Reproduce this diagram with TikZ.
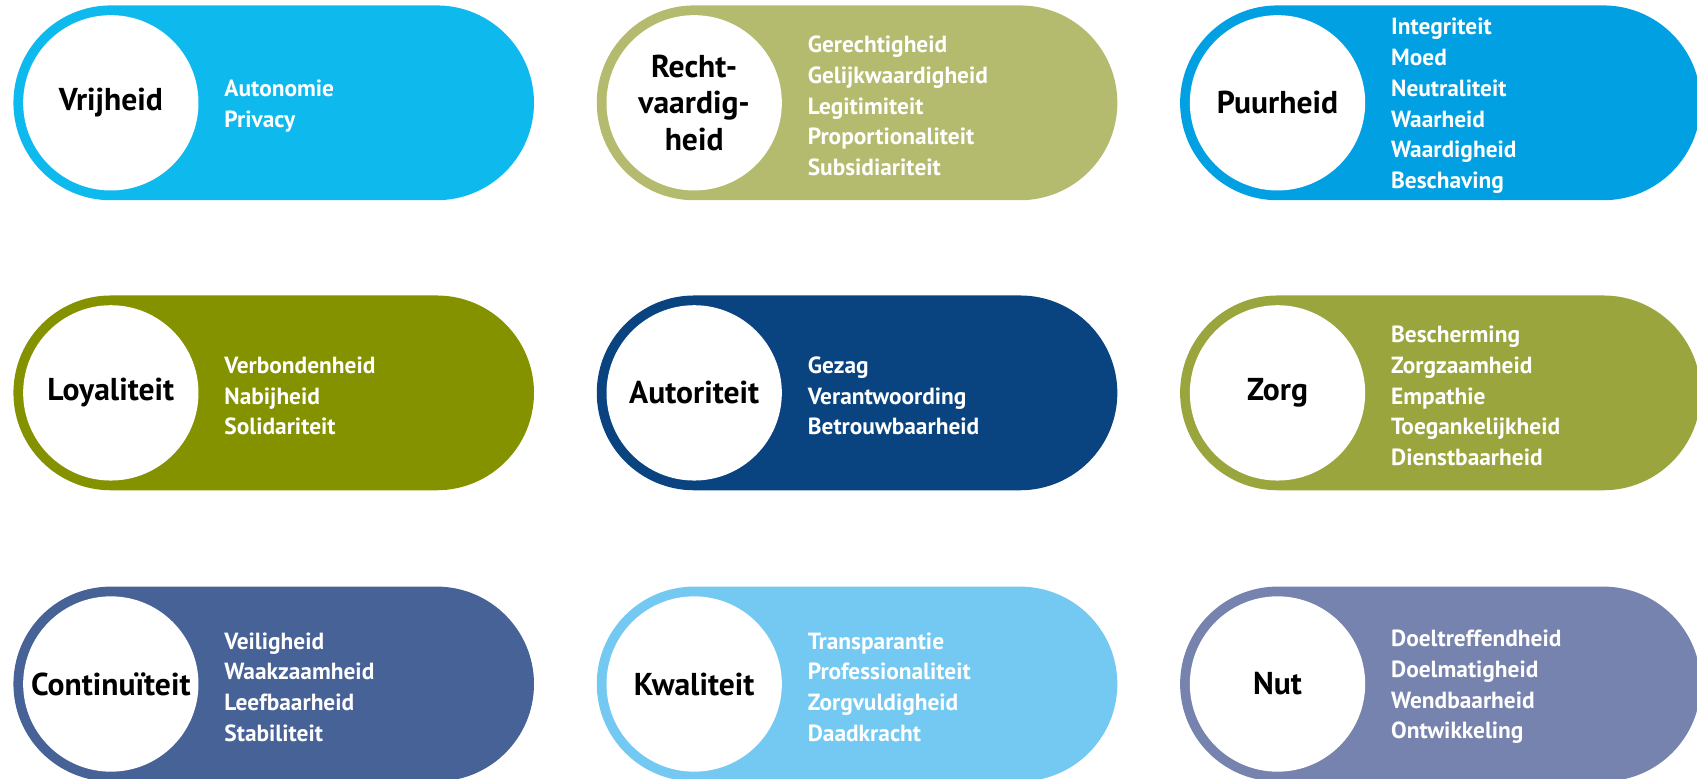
\documentclass[tikz,border=0pt]{standalone}
\usepackage{fontspec}
\setmainfont{PT Sans}
\usetikzlibrary{positioning,shapes.misc}

\definecolor{vrijheidkleur}{RGB}{14,185,238}
\definecolor{rechtkleur}{RGB}{180,187,110}
\definecolor{puurkleur}{RGB}{0,160,226}
\definecolor{loyaalkleur}{RGB}{132,146,0}
\definecolor{gezagkleur}{RGB}{10,68,128}
\definecolor{zorgkleur}{RGB}{154,166,61}
\definecolor{continukleur}{RGB}{71,98,150}
\definecolor{kwaliteitkleur}{RGB}{115,201,242}
\definecolor{nutkleur}{RGB}{118,131,175}

\tikzset{
	pill/.style={rounded rectangle, minimum width=240.5pt, minimum height=90pt, inner sep=0pt, anchor=west},
	kern/.style={circle, fill=white, minimum size=81pt, inner sep=0pt, align=center,
		font=\bfseries\fontsize{14.6}{17}\selectfont},
	waarden/.style={text=white, inner sep=0pt, align=left, yshift=-1.4pt,
		font=\bfseries\fontsize{10.8}{14.2}\selectfont},
}

\begin{document}
\begin{tikzpicture}[x=0.5pt,y=-0.5pt]
	\useasboundingbox (0,0) rectangle (1568,719);
	\clip (0,0) rectangle (1568,719);
	
	% rij 1
	\node[pill,fill=vrijheidkleur] at (12,95) (p1) {};
	\node[kern,right=4.5pt of p1.west] (k1) {Vrijheid};
	\node[waarden,right=97.5pt of p1.west] (w1) {Autonomie\\Privacy};
	
	\node[pill,fill=rechtkleur] at (551,95) (p2) {};
	\node[kern,right=4.5pt of p2.west] (k2) {Recht-\\vaardig-\\heid};
	\node[waarden,right=97.5pt of p2.west] (w2) {Gerechtigheid\\Gelijkwaardigheid\\Legitimiteit\\Proportionaliteit\\Subsidiariteit};
	
	\node[pill,fill=puurkleur] at (1090,95) (p3) {};
	\node[kern,right=4.5pt of p3.west] (k3) {Puurheid};
	\node[waarden,right=97.5pt of p3.west] (w3) {Integriteit\\Moed\\Neutraliteit\\Waarheid\\Waardigheid\\Beschaving};
	
	% rij 2
	\node[pill,fill=loyaalkleur] at (12,363) (p4) {};
	\node[kern,right=4.5pt of p4.west] (k4) {Loyaliteit};
	\node[waarden,right=97.5pt of p4.west] (w4) {Verbondenheid\\Nabijheid\\Solidariteit};
	
	\node[pill,fill=gezagkleur] at (551,363) (p5) {};
	\node[kern,right=4.5pt of p5.west] (k5) {Autoriteit};
	\node[waarden,right=97.5pt of p5.west] (w5) {Gezag\\Verantwoording\\Betrouwbaarheid};
	
	\node[pill,fill=zorgkleur] at (1090,363) (p6) {};
	\node[kern,right=4.5pt of p6.west] (k6) {Zorg};
	\node[waarden,right=97.5pt of p6.west] (w6) {Bescherming\\Zorgzaamheid\\Empathie\\Toegankelijkheid\\Dienstbaarheid};
	
	% rij 3
	\node[pill,fill=continukleur] at (12,632) (p7) {};
	\node[kern,right=4.5pt of p7.west] (k7) {Continuïteit};
	\node[waarden,right=97.5pt of p7.west] (w7) {Veiligheid\\Waakzaamheid\\Leefbaarheid\\Stabiliteit};
	
	\node[pill,fill=kwaliteitkleur] at (551,632) (p8) {};
	\node[kern,right=4.5pt of p8.west] (k8) {Kwaliteit};
	\node[waarden,right=97.5pt of p8.west] (w8) {Transparantie\\Professionaliteit\\Zorgvuldigheid\\Daadkracht};
	
	\node[pill,fill=nutkleur] at (1090,632) (p9) {};
	\node[kern,right=4.5pt of p9.west] (k9) {Nut};
	\node[waarden,right=97.5pt of p9.west] (w9) {Doeltreffendheid\\Doelmatigheid\\Wendbaarheid\\Ontwikkeling};
\end{tikzpicture}
\end{document}
